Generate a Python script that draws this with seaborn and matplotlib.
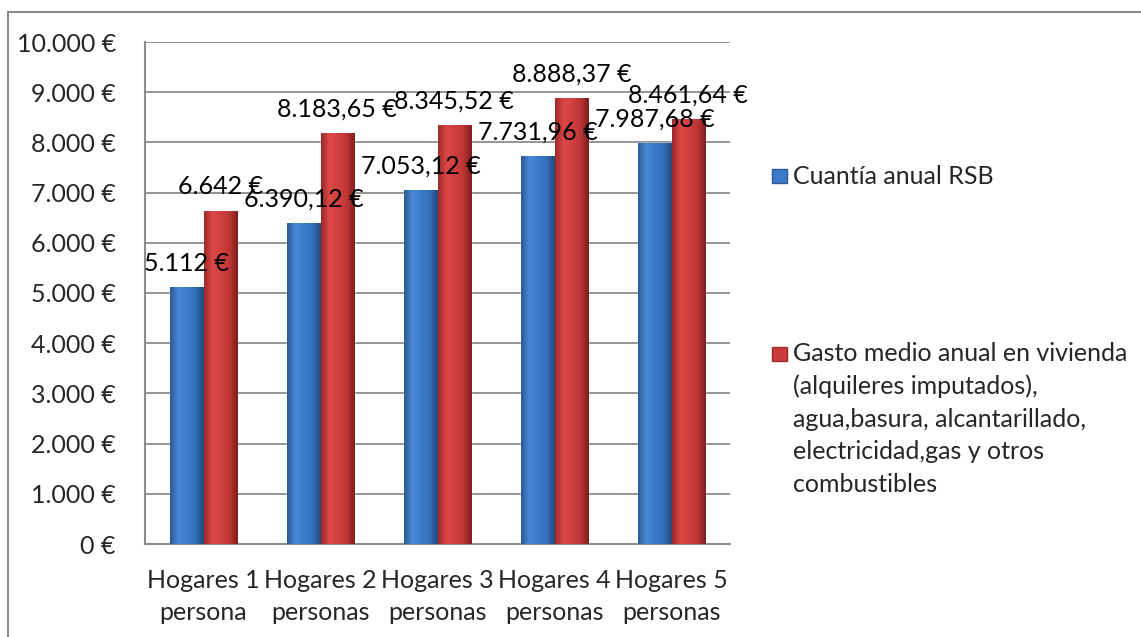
import numpy as np
import pandas as pd
import matplotlib.pyplot as plt
import seaborn as sns
from matplotlib.colors import LinearSegmentedColormap
from matplotlib.patches import Rectangle

# Data
categories = ["Hogares 1\npersona", "Hogares 2\npersonas", "Hogares 3\npersonas",
              "Hogares 4\npersonas", "Hogares 5\npersonas"]
series_names = ["Cuantía anual RSB",
                "Gasto medio anual en vivienda\n(alquileres imputados),\nagua,basura, alcantarillado,\nelectricidad,gas y otros\ncombustibles"]
rsb = [5112, 6390.12, 7053.12, 7731.96, 7987.68]
gasto = [6642, 8183.65, 8345.52, 8888.37, 8461.64]
y_ticks = list(range(0, 10001, 1000))


def euro(v):
    # Spanish number format: 8.183,65 €
    if float(v).is_integer():
        s = f"{v:,.0f}".replace(",", ".")
    else:
        s = f"{v:,.2f}".replace(",", "X").replace(".", ",").replace("X", ".")
    return s + " €"


df = pd.DataFrame({
    "Hogar": categories * 2,
    "Serie": [series_names[0]] * len(rsb) + [series_names[1]] * len(gasto),
    "Valor": rsb + gasto,
})

blue = "#3a78c8"
red = "#cc3b3b"
grid_col = "#8c8c8c"

sns.set_style("white")
plt.rcParams['font.family'] = ['Lato', 'DejaVu Sans']
fs = 18

fig = plt.figure(figsize=(11.41, 6.37), dpi=100)
W, H = 1141, 637
ax = fig.add_axes([145 / W, 1 - 544 / H, 585 / W, 502 / H])

sns.barplot(data=df, x="Hogar", y="Valor", hue="Serie", palette=[blue, red],
            width=0.575, saturation=1, legend=False, ax=ax, zorder=3)

# gradient fill on bars
cmaps = [
    LinearSegmentedColormap.from_list("b", ["#2b5a96", "#4a8ad8", "#3c7bcb", "#3470bd", "#24497c"]),
    LinearSegmentedColormap.from_list("r", ["#9c2a2a", "#dc4747", "#d03f3f", "#bf3636", "#7e1e1e"]),
]
grad = np.linspace(0, 1, 64).reshape(1, -1)
for cont, cmap, vals in zip(ax.containers, cmaps, [rsb, gasto]):
    for bar in cont:
        x0, w, h = bar.get_x(), bar.get_width(), bar.get_height()
        im = ax.imshow(grad, cmap=cmap, extent=[x0, x0 + w, 0, h], aspect="auto",
                       zorder=3.5, interpolation="bicubic")
        im.set_clip_path(bar)
    ax.bar_label(cont, labels=[euro(v) for v in vals], padding=9, fontsize=fs,
                 color="black", zorder=6)

ax.set_xlim(-0.5, len(categories) - 0.5)
ax.set_ylim(0, 10000)
ax.set_yticks(y_ticks)
ax.set_yticklabels([euro(v) for v in y_ticks], fontsize=fs)
ax.set_xlabel("")
ax.set_ylabel("")

# category ticks between groups
ax.set_xticks(range(len(categories)))
ax.set_xticklabels(categories, fontsize=fs, linespacing=1.5)
ax.set_xticks(np.arange(-0.5, len(categories)), minor=True)
ax.tick_params(axis="x", which="major", length=0, pad=18)
ax.tick_params(axis="x", which="minor", length=8, color=grid_col, width=1.3, direction="out")
ax.tick_params(axis="y", length=8, color=grid_col, width=1.3, direction="out", pad=13)

ax.yaxis.grid(True, color=grid_col, lw=1.3, zorder=0)
ax.set_axisbelow(True)
for side in ["top", "right"]:
    ax.spines[side].set_visible(False)
for side in ["left", "bottom"]:
    ax.spines[side].set_color(grid_col)
    ax.spines[side].set_linewidth(1.5)

# legend drawn at the right
fig.add_artist(Rectangle((772 / W, 1 - 183 / H), 15 / W, 14 / H, transform=fig.transFigure,
                         fc=blue, ec="#2b5a96", lw=1))
fig.text(793 / W, 1 - 176 / H, series_names[0], fontsize=fs, va="center")
fig.add_artist(Rectangle((772 / W, 1 - 361 / H), 15 / W, 14 / H, transform=fig.transFigure,
                         fc=red, ec="#9c2a2a", lw=1))
fig.text(793 / W, 1 - 342 / H, series_names[1], fontsize=fs, va="top", linespacing=1.5)

# chart border
fig.add_artist(Rectangle((8 / W, -0.1), 1.2, 1 - 12 / H + 0.1, transform=fig.transFigure,
                         fill=False, ec=grid_col, lw=1.5))

fig.savefig("out.png", dpi=100)
